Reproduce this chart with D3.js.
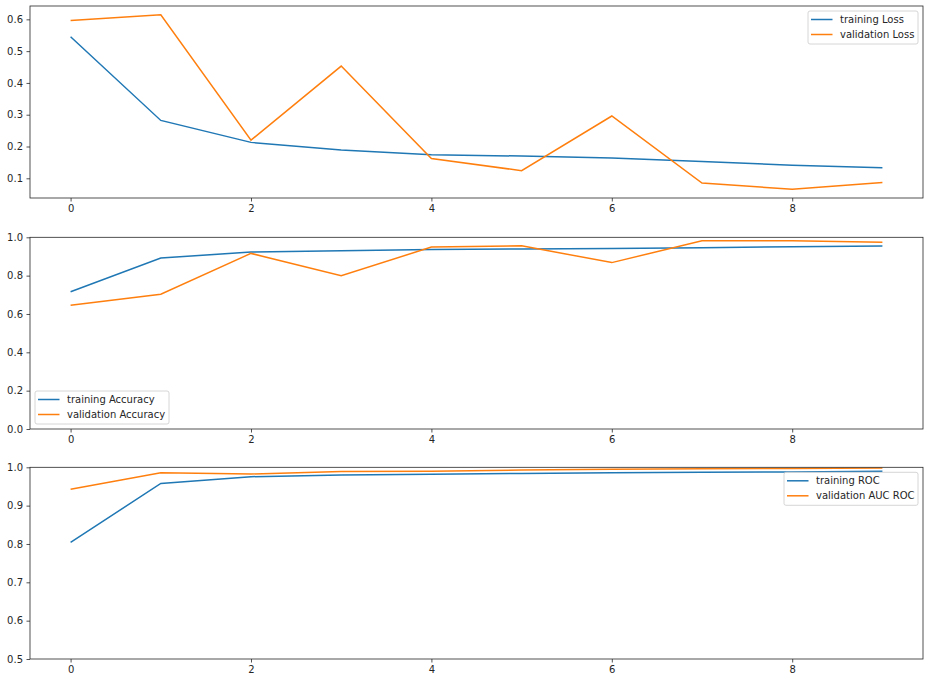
<!DOCTYPE html>
<html><head><meta charset="utf-8">
<script src="https://cdn.jsdelivr.net/npm/d3@7"></script>
<style>body{margin:0;background:#fff}svg{display:block}text{font-family:"DejaVu Sans",sans-serif;font-size:10px;fill:#262626}</style>
</head><body><svg id="c" width="930" height="683"></svg>
<script>
const epochs = [0,1,2,3,4,5,6,7,8,9];
const xTicks = [0,2,4,6,8];
const trainLoss = [0.545,0.282,0.213,0.189,0.174,0.170,0.164,0.153,0.141,0.133];
const valLoss   = [0.596,0.6145,0.220,0.453,0.162,0.124,0.296,0.085,0.0655,0.087];
const trainAcc  = [0.716,0.892,0.923,0.930,0.937,0.939,0.941,0.946,0.951,0.955];
const valAcc    = [0.645,0.703,0.916,0.800,0.949,0.956,0.868,0.982,0.982,0.974];
const trainRoc  = [0.804,0.958,0.9755,0.980,0.982,0.984,0.986,0.987,0.988,0.990];
const valRoc    = [0.943,0.986,0.9825,0.989,0.990,0.993,0.995,0.996,0.997,0.998];
const lossTicks = [0.1,0.2,0.3,0.4,0.5,0.6];
const accTicks  = [0.0,0.2,0.4,0.6,0.8,1.0];
const rocTicks  = [0.5,0.6,0.7,0.8,0.9,1.0];

const C1 = "#1f77b4", C2 = "#ff7f0e";
const svg = d3.select("#c");
const L = 30, R = 923;
const x = d3.scaleLinear().domain([-0.45, 9.45]).range([L, R]);

function pad(a, b){ const lo = Math.min(...a, ...b), hi = Math.max(...a, ...b), r = hi - lo; return [lo - 0.05*r, hi + 0.05*r]; }

const panels = [
  {top:6, bottom:198, dom:pad(trainLoss, valLoss), ticks:lossTicks, fmt:d3.format(".1f"), s1:trainLoss, s2:valLoss, n1:"training Loss", n2:"validation Loss", leg:"ur", legW:110},
  {top:237.3, bottom:429, dom:[0,1], ticks:accTicks, fmt:d3.format(".1f"), s1:trainAcc, s2:valAcc, n1:"training Accuracy", n2:"validation Accuracy", leg:"ll", legW:134},
  {top:467.3, bottom:659, dom:[0.5,1], ticks:rocTicks, fmt:d3.format(".1f"), s1:trainRoc, s2:valRoc, n1:"training ROC", n2:"validation AUC ROC", leg:"ur", legW:134}
];

panels.forEach(p => {
  const y = d3.scaleLinear().domain(p.dom).range([p.bottom, p.top]);
  const g = svg.append("g");
  const clipId = "clip" + Math.round(p.top);
  g.append("clipPath").attr("id", clipId).append("rect").attr("x", L).attr("y", p.top).attr("width", R-L).attr("height", p.bottom-p.top);
  const line = d3.line().x((d,i) => x(epochs[i])).y(d => y(d));
  g.append("path").datum(p.s1).attr("d", line).attr("fill","none").attr("stroke",C1).attr("stroke-width",1.5).attr("clip-path",`url(#${clipId})`);
  g.append("path").datum(p.s2).attr("d", line).attr("fill","none").attr("stroke",C2).attr("stroke-width",1.5).attr("clip-path",`url(#${clipId})`);

  const ax = g.append("g").attr("transform",`translate(0,${p.bottom})`)
    .call(d3.axisBottom(x).tickValues(xTicks).tickSize(3.5).tickPadding(3.5).tickFormat(d3.format("d")));
  const ay = g.append("g").attr("transform",`translate(${L},0)`)
    .call(d3.axisLeft(y).tickValues(p.ticks).tickSize(3.5).tickPadding(3.5).tickFormat(p.fmt));
  [ax, ay].forEach(a => { a.select(".domain").remove(); a.selectAll("line").attr("stroke","#262626").attr("stroke-width",0.8); a.selectAll("text").attr("font-size",10).attr("font-family","DejaVu Sans").attr("fill","#262626"); });
  g.append("rect").attr("x",L).attr("y",p.top).attr("width",R-L).attr("height",p.bottom-p.top).attr("fill","none").attr("stroke","#262626").attr("stroke-width",0.8);

  // legend
  const lw = p.legW, lh = 33;
  const lx = p.leg === "ur" ? R - 5 - lw : L + 5;
  const ly = p.leg === "ur" ? p.top + 5 : p.bottom - 5 - lh;
  const lg = g.append("g").attr("transform",`translate(${lx},${ly})`);
  lg.append("rect").attr("width",lw).attr("height",lh).attr("rx",2).attr("fill","#fff").attr("fill-opacity",0.8).attr("stroke","#cccccc").attr("stroke-width",0.8);
  [[p.n1,C1],[p.n2,C2]].forEach((e,i) => {
    const yy = 8.5 + i*15;
    lg.append("line").attr("x1",3).attr("x2",24.5).attr("y1",yy).attr("y2",yy).attr("stroke",e[1]).attr("stroke-width",1.5);
    lg.append("text").attr("x",32).attr("y",yy).attr("dy","0.35em").text(e[0]);
  });
});
</script></body></html>
